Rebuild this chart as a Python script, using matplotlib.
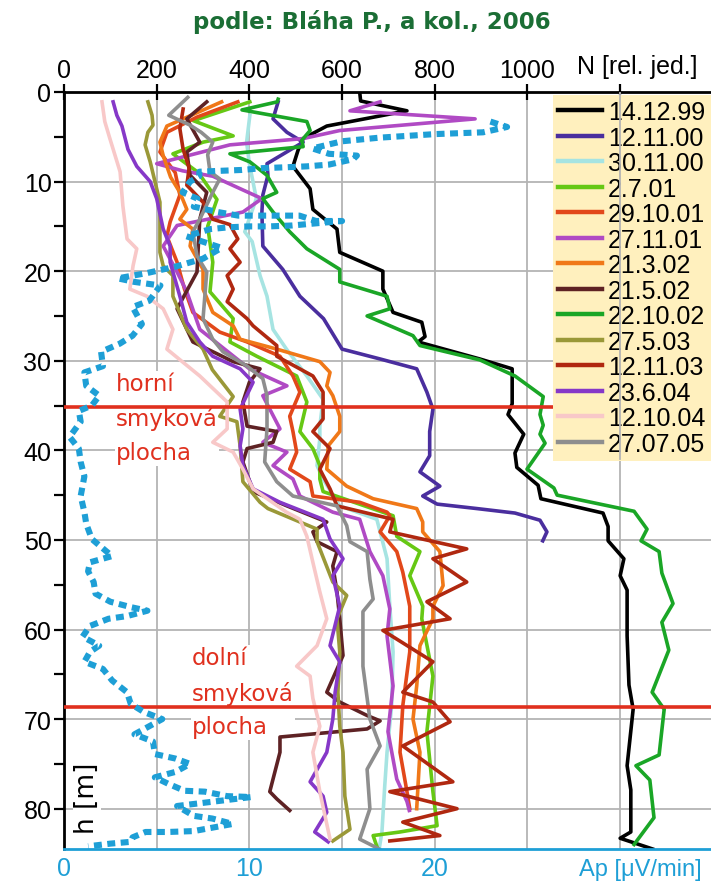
import matplotlib.pyplot as plt
import matplotlib.ticker as mticker

# hodnoty: hloubka h [m] a N [rel. jed.]
d_141299 = [0, 1.0, 2.1, 3.8, 5.2, 6.5, 8.3, 10.8, 13.1, 15.3, 17.9, 20.0, 22.0, 24.6, 25.7, 27.3, 27.9,
            29.8, 30.9, 34.8, 36.0, 38.2, 40.3, 41.9, 43.9, 45.4, 47.0, 48.5, 50.1, 52.1, 54.0, 55.6,
            60.7, 66.2, 68.9, 75.2, 77.9, 82.6, 83.3, 84.5]
n_141299 = [638, 640, 740, 567, 516, 505, 494, 531, 537, 589, 595, 688, 688, 710, 772, 779, 764,
            897, 967, 967, 958, 992, 973, 977, 1023, 1029, 1163, 1174, 1174, 1208, 1200, 1215,
            1215, 1219, 1228, 1215, 1223, 1223, 1200, 1270]

d_121100 = [1.1, 3.0, 4.5, 5.6, 8.0, 9.3, 11.5, 13.4, 17.2, 19.8, 22.8, 25.3, 28.7, 29.8, 30.9, 33.5,
            35.4, 37.9, 40.6, 42.4, 44.0, 45.1, 46.0, 46.5, 47.0, 47.8, 49.1, 50.1]
n_121100 = [462, 451, 481, 516, 438, 440, 429, 427, 429, 472, 509, 560, 600, 682, 761, 783,
            796, 789, 789, 768, 811, 774, 805, 891, 973, 1027, 1042, 1033]

d_301100 = [2.6, 5.6, 8.0, 11.9, 15.6, 16.7, 20.5, 22.8, 26.5, 28.7, 31.7, 34.3, 37.3, 38.7, 41.7,
            43.2, 46.2, 47.7, 52.1, 57.4, 62.5, 68.5, 73.7, 77.5, 82.6, 84.5]
n_301100 = [401, 394, 400, 415, 390, 406, 423, 438, 451, 480, 524, 559, 552, 552, 546,
            559, 595, 675, 697, 703, 710, 707, 697, 692, 686, 680]

d_2701 = [1.1, 3.2, 4.9, 5.6, 6.9, 9.0, 12.0, 15.0, 19.0, 22.3, 25.3, 27.9, 29.5, 31.7, 34.6, 37.9,
          39.8, 41.7, 43.2, 44.6, 47.3, 49.6, 51.3, 54.0, 57.4, 58.8, 65.2, 71.4, 78.1, 81.9, 82.6,
          83.0, 84.2]
n_2701 = [401, 279, 365, 300, 235, 290, 330, 310, 321, 315, 365, 358, 416, 502, 524, 509,
          537, 552, 552, 559, 710, 718, 768, 746, 774, 772, 796, 783, 796, 805, 725,
          667, 675]

d_291001 = [1.1, 2.8, 4.5, 6.7, 9.0, 11.5, 14.5, 16.1, 19.0, 22.0, 24.6, 26.8, 27.9, 29.5, 31.7, 33.5,
            36.2, 37.9, 40.2, 42.1, 43.5, 45.1, 45.8, 46.9, 47.3, 49.1, 51.3, 53.6, 57.4, 62.5, 68.5,
            73.7, 78.1, 80.0]
n_291001 = [375, 287, 222, 207, 240, 250, 229, 222, 244, 260, 278, 336, 395, 466, 494, 509,
            487, 494, 502, 487, 531, 537, 638, 697, 703, 682, 718, 731, 746, 746, 731,
            725, 740, 746]

d_271101 = [1.1, 2.1, 3.0, 4.3, 5.2, 5.9, 8.0, 8.8, 9.4, 11.9, 13.4, 14.9, 17.2, 20.1, 22.3, 26.5,
            30.9, 32.8, 33.9, 37.6, 39.1, 40.2, 41.7, 43.2, 45.1, 46.9, 47.7, 51.3, 54.0, 57.7, 60.7,
            66.3, 71.4, 76.7, 79.2, 80.2]
n_271101 = [682, 617, 887, 595, 516, 358, 200, 256, 321, 427, 386, 244, 214, 244, 265, 293,
            400, 481, 429, 466, 429, 481, 451, 494, 509, 580, 638, 660, 688, 703, 697,
            710, 699, 718, 740, 745]

d_21302 = [1.1, 3.8, 5.6, 7.1, 9.5, 11.2, 13.1, 14.2, 15.3, 17.2, 19.8, 22.0, 24.6, 26.1, 27.6, 28.7,
           30.1, 31.3, 32.8, 33.9, 36.2, 37.9, 39.5, 42.1, 44.0, 45.4, 46.5, 48.0, 49.1, 51.3, 55.1,
           57.4, 58.8, 61.8, 66.3, 70.0, 73.7, 80.0]
n_21302 = [340, 222, 207, 214, 230, 250, 265, 250, 278, 272, 300, 300, 321, 365, 380, 459,
           552, 574, 567, 580, 595, 595, 570, 567, 610, 667, 761, 774, 774, 811, 818,
           796, 796, 768, 761, 753, 768, 761]

d_21502 = [1.1, 3.0, 5.6, 6.7, 9.3, 11.2, 14.2, 17.0, 20.1, 24.2, 27.9, 30.1, 30.9, 32.4, 34.6, 37.3,
           37.9, 39.1, 39.8, 41.3, 44.6, 46.2, 48.0, 49.1, 50.2, 51.3, 52.9, 55.8, 58.8, 62.9, 67.0,
           68.1, 69.6, 70.2, 71.1, 72.0, 73.7, 76.7, 78.1, 78.9, 80.2]
n_21502 = [308, 265, 293, 265, 272, 308, 293, 290, 287, 244, 278, 365, 423, 400, 386, 395,
           459, 451, 395, 386, 408, 481, 567, 537, 546, 589, 580, 589, 595, 602, 567,
           595, 654, 682, 654, 466, 466, 451, 444, 459, 487]

d_221002 = [0.8, 1.1, 2.0, 3.3, 4.3, 5.4, 6.1, 6.9, 7.8, 9.3, 11.2, 11.9, 13.4, 15.6, 17.5, 19.8,
            21.2, 22.8, 24.2, 25.0, 27.2, 28.3, 29.9, 31.7, 34.0, 36.0, 37.2, 38.2, 39.2, 42.1, 44.2,
            45.0, 46.8, 48.8, 50.1, 51.3, 53.7, 57.1, 59.2, 62.3, 67.0, 68.9, 74.0, 75.2, 76.8, 81.0,
            84.0]
n_221002 = [462, 460, 384, 524, 531, 513, 516, 358, 401, 438, 459, 429, 451, 487, 524, 595,
            595, 697, 703, 654, 753, 768, 897, 973, 1034, 1027, 1034, 1027, 1038, 999, 1057,
            1064, 1230, 1258, 1245, 1284, 1290, 1314, 1290, 1305, 1269, 1295, 1284, 1234, 1264, 1273,
            1230]

d_27503 = [1.1, 2.6, 3.7, 4.5, 5.9, 7.8, 10.8, 12.3, 15.3, 17.9, 19.4, 20.5, 22.8, 26.5, 28.7, 31.0,
           34.0, 36.2, 36.8, 39.5, 43.5, 45.8, 46.5, 48.8, 50.2, 54.7, 56.2, 58.8, 62.5, 67.0, 70.8,
           73.7, 78.6, 82.3, 83.6]
n_27503 = [181, 190, 192, 181, 175, 186, 200, 207, 207, 207, 214, 235, 235, 265, 300, 320,
           365, 336, 373, 380, 386, 423, 440, 546, 546, 580, 610, 589, 595, 591, 595,
           602, 606, 617, 580]

d_121103 = [1.9, 4.1, 6.4, 8.5, 10.4, 12.3, 14.2, 14.8, 16.4, 17.5, 19.0, 20.5, 22.0, 23.4, 25.3, 26.1,
            28.3, 29.5, 31.7, 33.5, 36.5, 37.9, 39.8, 42.1, 44.3, 46.2, 47.7, 49.1, 51.0, 52.1, 54.7,
            56.9, 58.8, 60.1, 63.6, 67.0, 68.1, 70.3, 73.0, 77.0, 78.1, 80.0, 81.5, 83.0, 83.6]
n_121103 = [257, 250, 257, 270, 265, 300, 321, 358, 375, 358, 380, 352, 365, 352, 395, 408,
            459, 459, 537, 559, 559, 537, 574, 552, 574, 589, 710, 703, 869, 796, 869,
            783, 833, 688, 796, 731, 796, 833, 731, 839, 703, 848, 731, 811, 703]

d_23604 = [1.1, 2.6, 3.8, 6.4, 8.3, 10.0, 11.9, 15.3, 17.2, 19.0, 22.8, 25.7, 27.9, 29.5, 30.9, 32.4,
           35.4, 37.6, 39.5, 41.7, 44.3, 45.8, 47.7, 49.9, 52.1, 54.0, 57.4, 61.8, 63.6, 67.0, 70.0,
           73.7, 77.0, 78.6, 80.4, 82.6, 83.7]
n_23604 = [106, 114, 125, 138, 157, 186, 200, 214, 229, 229, 250, 265, 293, 321, 380, 408,
           380, 386, 380, 386, 408, 466, 559, 574, 602, 580, 595, 574, 595, 585, 580,
           567, 531, 559, 567, 541, 570]

d_121004 = [1.1, 3.3, 5.2, 8.9, 12.7, 16.4, 17.5, 19.4, 22.0, 22.8, 24.2, 26.5, 28.7, 31.7, 34.6, 37.6,
            39.1, 40.2, 42.1, 44.3, 46.9, 47.7, 49.6, 52.5, 55.8, 58.8, 61.8, 64.1, 65.2, 67.7, 70.8,
            73.7, 78.1, 83.4]
n_121004 = [82, 88, 99, 121, 127, 136, 157, 149, 142, 179, 214, 235, 222, 293, 352, 352,
            321, 365, 386, 408, 480, 509, 524, 537, 552, 567, 546, 502, 531, 537, 552,
            537, 552, 574]

d_270705 = [0.6, 2.6, 3.7, 4.5, 5.6, 7.0, 8.9, 9.7, 11.2, 14.2, 15.6, 18.3, 20.1, 25.3, 27.6, 29.0,
            30.6, 32.0, 33.9, 37.6, 41.3, 43.5, 45.1, 46.2, 48.4, 50.2, 51.3, 54.4, 56.6, 58.0, 64.1,
            70.0, 73.0, 75.6, 80.0, 83.4, 84.5]
n_270705 = [267, 226, 272, 296, 321, 310, 315, 336, 321, 293, 278, 287, 308, 300, 321, 343,
            395, 429, 438, 438, 433, 459, 494, 589, 610, 617, 654, 660, 667, 645, 645,
            660, 682, 654, 660, 638, 680]

# Ap [uV/min] (modra teckovana)
d_ap = [3.3, 3.9, 4.5, 4.7, 5.1, 5.5, 5.9, 6.3, 6.9, 7.1, 7.5, 8.1, 8.3, 8.4, 8.5, 8.7, 8.8, 8.9,
        9.4, 10.0, 11.2, 11.9, 12.8, 13.4, 13.8, 13.8, 13.8, 13.8, 14.4, 14.4, 14.9, 15.0, 15.0,
        15.1, 15.3, 16.1, 17.4, 18.6, 19.5, 20.2, 20.8, 21.2, 21.6, 23.3, 24.0, 25.9, 27.2, 28.1,
        29.0, 30.6, 31.3, 32.8, 33.9, 35.0, 35.6, 36.8, 38.5, 39.8, 41.3, 42.9, 45.1, 46.9, 48.2,
        49.9, 51.3, 51.8, 52.5, 53.5, 54.7, 56.0, 56.9, 57.5, 57.9, 58.5, 58.8, 59.6, 60.8, 61.8,
        62.5, 63.6, 64.4, 65.7, 67.0, 68.3, 69.2, 70.0, 71.7, 72.5, 73.9, 74.4, 75.0, 75.9, 76.5,
        77.2, 78.0, 78.1, 78.6, 78.7, 79.7, 80.8, 81.1, 81.7, 82.5, 82.6, 82.6, 83.2, 83.7, 83.9,
        84.2]
ap = [23.0, 23.9, 22.6, 20.0, 17.0, 15.0, 14.2, 13.4, 14.3, 15.8, 15.6, 14.3, 13.1, 12.0, 10.7,
      9.6, 8.4, 7.3, 7.3, 6.8, 6.4, 7.2, 7.0, 8.3, 9.4, 10.2, 11.5, 12.7, 13.6, 15.0, 12.3, 11.1,
      10.0, 8.9, 7.9, 6.6, 8.5, 7.5, 6.0, 4.5, 2.9, 3.8, 5.2, 4.6, 3.7, 4.2, 3.7, 3.0, 2.0, 2.1,
      1.1, 1.2, 1.9, 1.5, 0.8, 0.9, 0.3, 0.8, 0.9, 1.1, 0.9, 1.1, 1.2, 1.5, 2.3, 2.6, 1.4, 1.3,
      1.6, 1.7, 2.5, 3.6, 4.5, 3.4, 2.4, 1.4, 1.0, 1.9, 1.4, 1.1, 2.1, 2.6, 3.4, 3.6, 4.3, 5.3,
      3.8, 4.8, 4.9, 6.0, 6.8, 6.0, 4.9, 5.6, 6.5, 7.6, 8.8, 10.1, 6.1, 7.0, 8.0, 9.1, 7.0, 5.6,
      4.4, 3.7, 3.6, 2.5, 1.3]

labels = ['14.12.99', '12.11.00', '30.11.00', '2.7.01', '29.10.01', '27.11.01', '21.3.02',
          '21.5.02', '22.10.02', '27.5.03', '12.11.03', '23.6.04', '12.10.04', '27.07.05']
colors = ['#000000', '#4A2E9E', '#A6E4E2', '#66C814', '#E2481A', '#B04AC4', '#F07818',
          '#5E2224', '#1AA626', '#9A9838', '#B02810', '#8638C8', '#F8C8C8', '#8E8E8E']
series = [(d_141299, n_141299), (d_121100, n_121100), (d_301100, n_301100), (d_2701, n_2701),
          (d_291001, n_291001), (d_271101, n_271101), (d_21302, n_21302), (d_21502, n_21502),
          (d_221002, n_221002), (d_27503, n_27503), (d_121103, n_121103), (d_23604, n_23604),
          (d_121004, n_121004), (d_270705, n_270705)]

n_ticks = [0, 200, 400, 600, 800, 1000, 1200]
n_ticklabels = ['0', '200', '400', '600', '800', '1000', '']
ap_ticks = [0, 10, 20]
h_ticks = [0, 10, 20, 30, 40, 50, 60, 70, 80]
sliding_planes = [35.2, 68.6]

plt.rcParams['font.family'] = ['Liberation Sans', 'DejaVu Sans']
blue = '#1E9FD6'
red = '#E0301E'
fs = 18

fig = plt.figure(figsize=(7.11, 8.87), dpi=100)
ax = fig.add_axes([64 / 711, 37 / 887, 647 / 711, 757 / 887])
ax.set_xlim(0, 1396)
ax.set_ylim(84.5, 0)
ax.set_axisbelow(True)

# spodni osa Ap (twiny prepina horni osu, proto hned na zacatku)
ax2 = ax.twiny()
ax2.set_xlim(0, 1396 / 40)
ax2.xaxis.tick_bottom()
ax2.set_xticks(ap_ticks)
ax2.tick_params(axis='x', length=0, labelsize=fs, labelcolor=blue, pad=5)
for s in ['top', 'left', 'right']:
    ax2.spines[s].set_visible(False)
ax2.spines['bottom'].set_color(blue)
ax2.spines['bottom'].set_linewidth(2)

for (d, n), lab, c in zip(series, labels, colors):
    ax.plot(n, d, color=c, lw=2.6, label=lab, zorder=3)

for h in sliding_planes:
    ax.axhline(h, color=red, lw=2.6, zorder=4)

# horni osa N a leva osa h
ax.xaxis.tick_top()
ax.set_xticks(n_ticks)
ax.set_xticklabels(n_ticklabels)
ax.set_yticks(h_ticks)
ax.yaxis.set_minor_locator(mticker.MultipleLocator(5))
ax.tick_params(axis='x', which='major', direction='inout', length=12, width=1.6, labelsize=fs, pad=1)
ax.tick_params(axis='y', which='both', direction='out', length=7, width=1.6, labelsize=fs, pad=2)
ax.grid(True, color='#B4B4B4', lw=1.3)
for s in ['right', 'bottom']:
    ax.spines[s].set_visible(False)
for s in ['top', 'left']:
    ax.spines[s].set_linewidth(2)

ax.text(1236, -2.9, 'N [rel. jed.]', fontsize=fs, ha='center', va='center', clip_on=False)

ax2.plot(ap, d_ap, color=blue, lw=4.4, linestyle=(0, (1.3, 0.9)), dash_capstyle='butt', zorder=5)
ax2.text(31.1, 86.7, 'Ap [\u03bcV/min]', fontsize=17, color=blue, ha='center', va='center', clip_on=False)

# texty
box = dict(facecolor='white', edgecolor='none', pad=1)
ax.text(112, 36.4, 'horní\nsmyková\nplocha', color=red, fontsize=16.5, family='DejaVu Sans',
        ha='left', va='center', linespacing=1.6, bbox=box, zorder=2.5)
ax.text(276, 67.0, 'dolní\nsmyková\nplocha', color=red, fontsize=16.5, family='DejaVu Sans',
        ha='left', va='center', linespacing=1.6, bbox=box, zorder=2.5)
ax.text(50, 78.7, 'h [m]', rotation=90, fontsize=19, family='DejaVu Sans', ha='center', va='center',
        bbox=box, zorder=2.5)

leg = ax.legend(loc='upper left', bbox_to_anchor=(0.756, 0.996), borderaxespad=0, borderpad=0.2,
                fontsize=fs, handlelength=1.75, handletextpad=0.25, labelspacing=0.06,
                frameon=True, fancybox=False, framealpha=1, facecolor='#FFF0BE', edgecolor='none')
for line in leg.get_lines():
    line.set_linewidth(3.2)
ax.axvline(1200, ymin=1 - 41 / 84.5, ymax=1, color='#B4B4B4', lw=1.3, zorder=6)

fig.text(0.523, 0.975, 'podle: Bláha P., a kol., 2006', color='#1B6E35', fontsize=16.5,
         fontweight='bold', family='DejaVu Sans', ha='center', va='center')

fig.savefig('out.png', dpi=100)
